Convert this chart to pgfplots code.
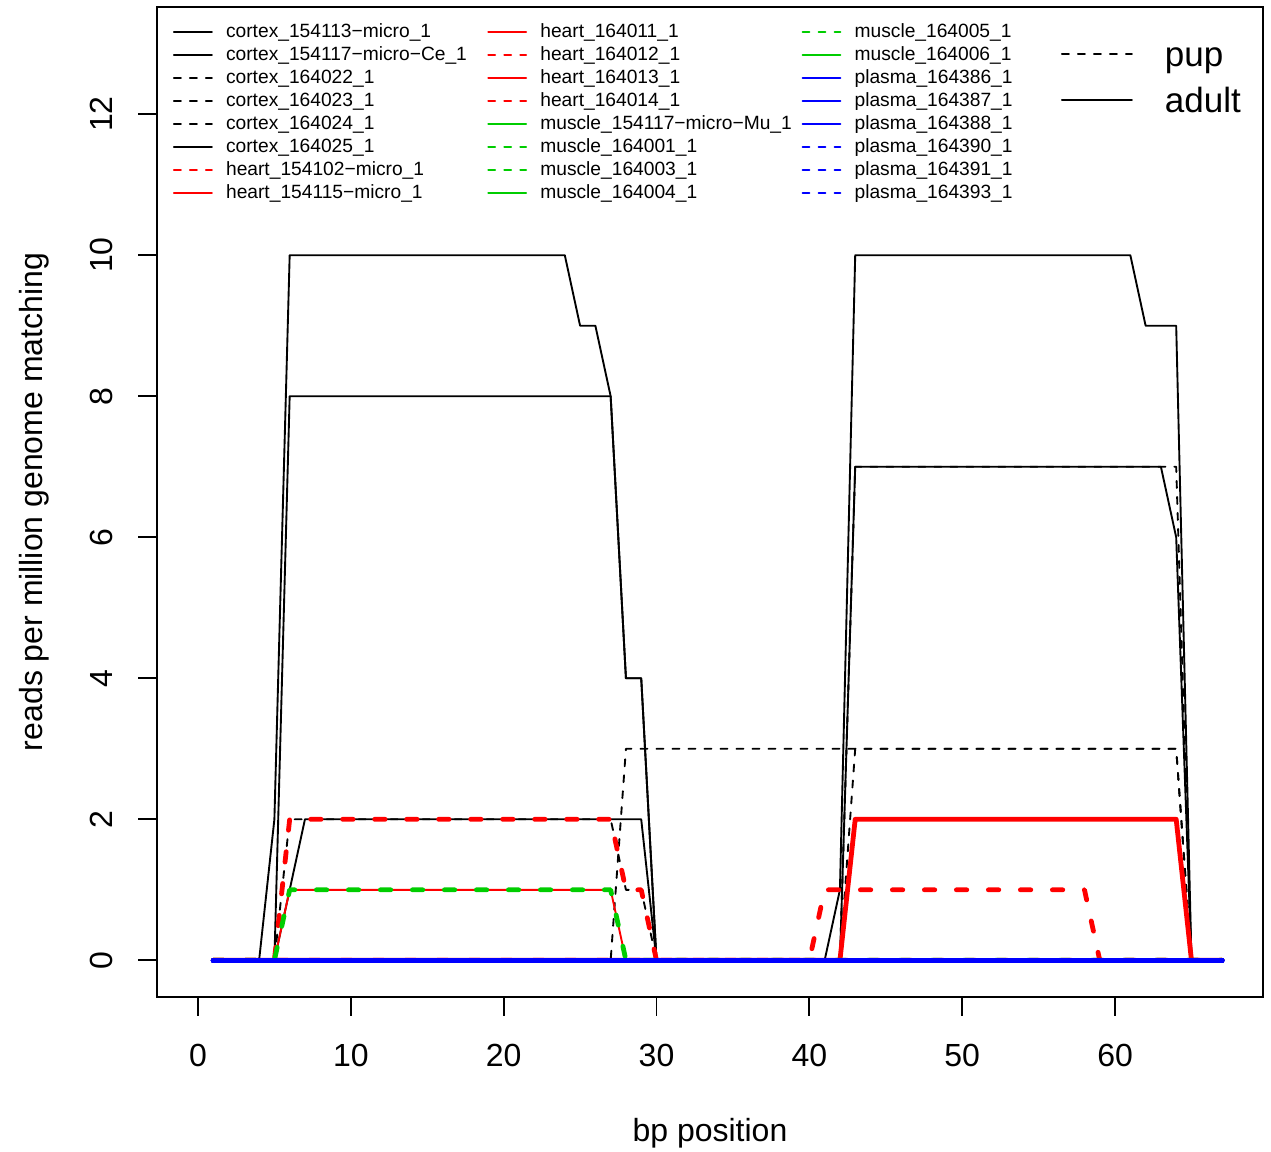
\documentclass[border=0pt]{standalone}
\usepackage{fontspec}
\setmainfont{Liberation Sans}
\usepackage{pgfplots}
\pgfplotsset{compat=1.18}
\definecolor{rgreen}{RGB}{0,205,0}
\definecolor{rred}{RGB}{255,0,0}
\definecolor{rblue}{RGB}{0,0,255}
\tikzset{
  thinsolid/.style={line width=0.94pt, line cap=round, line join=round},
  thindash/.style={line width=0.94pt, line cap=round, line join=round, dash pattern=on 3.5pt off 4.5pt},
  thicksolid/.style={line width=2.4pt, line cap=round, line join=round},
  thickdash/.style={line width=2.4pt, line cap=round, line join=round, dash pattern=on 5.2pt off 10.8pt},
}
\newcommand{\lgt}[1]{\makebox[137.2pt][l]{\hspace{6.6pt}#1}}
\begin{document}
\begin{tikzpicture}
\useasboundingbox (0,0) rectangle (635.5pt,576pt);
\begin{axis}[
  at={(78.5pt,77.5pt)}, anchor=south west,
  scale only axis, width=553pt, height=495pt,
  xmin=-2.68, xmax=69.68, ymin=-0.52, ymax=13.52,
  xtick={0,10,...,60}, ytick={0,2,...,12},
  tick align=outside, xtick pos=left, ytick pos=left,
  minor tick num=0,
  major tick length=9.5pt,
  axis line style={line width=0.94pt},
  every tick/.append style={black, line width=0.94pt},
  tick label style={font=\fontsize{16}{19}\selectfont, inner sep=0pt},
  /pgf/number format/assume math mode=true,
  xticklabel style={anchor=base},
  xticklabel shift=25.5pt,
  yticklabel style={rotate=90, anchor=base},
  yticklabel shift=12.5pt,
  legend style={at={(0,1)}, anchor=north west, xshift=8pt, yshift=-6.75pt,
    draw=none, fill=none, inner sep=0pt, outer sep=0pt, row sep=0pt, column sep=0pt,
    nodes={inner sep=0pt, text height=8.75pt, text depth=2.75pt, font=\fontsize{9.6}{11.5}\selectfont}},
  legend columns=8, transpose legend, legend cell align=left,
  legend image code/.code={\draw[#1] (0pt,0pt) -- (19pt,0pt);},
]
% cortex
\addplot[black, thinsolid, forget plot] coordinates {(1,0)(4,0)(5,2)(6,10)(24,10)(25,9)(26,9)(27,8)(28,4)(29,4)(30,0)(41,0)(42,1)(43,10)(61,10)(62,9)(64,9)(65,0)(67,0)};
\addplot[black, thinsolid, forget plot] coordinates {(1,0)(5,0)(6,8)(27,8)(28,4)(29,4)(30,0)(42,0)(43,7)(63,7)(64,6)(65,0)(67,0)};
\addplot[black, thindash, forget plot] coordinates {(1,0)(5,0)(6,2)(27,2)(28,1)(29,1)(30,0)(42,0)(43,7)(64,7)(65,0)(67,0)};
\addplot[black, thindash, forget plot] coordinates {(1,0)(27,0)(28,3)(64,3)(65,0)(67,0)};
\addplot[black, thindash, forget plot] coordinates {(1,0)(42,0)(43,3)(64,3)(65,0)(67,0)};
\addplot[black, thinsolid, forget plot] coordinates {(1,0)(5,0)(6,1)(7,2)(29,2)(30,0)(67,0)};
% heart
\addplot[rred, thickdash, forget plot] coordinates {(1,0)(5,0)(6,2)(27,2)(28,1)(29,1)(30,0)(67,0)};
\addplot[rred, thinsolid, forget plot] coordinates {(1,0)(5,0)(6,1)(27,1)(28,0)(67,0)};
\addplot[rred, thicksolid, forget plot] coordinates {(1,0)(42,0)(43,2)(64,2)(65,0)(67,0)};
\addplot[rred, thickdash, forget plot] coordinates {(1,0)(40,0)(41,1)(58,1)(59,0)(67,0)};
\addplot[rred, thinsolid, forget plot] coordinates {(1,0)(67,0)};
\addplot[rred, thindash, forget plot] coordinates {(1,0)(67,0)};
% muscle
\addplot[rgreen, thinsolid, forget plot] coordinates {(1,0)(67,0)};
\addplot[rgreen, thickdash, forget plot] coordinates {(1,0)(5,0)(6,1)(27,1)(28,0)(67,0)};
\addplot[rgreen, thindash, forget plot] coordinates {(1,0)(67,0)};
\addplot[rgreen, thinsolid, forget plot] coordinates {(1,0)(67,0)};
\addplot[rgreen, thindash, forget plot] coordinates {(1,0)(67,0)};
\addplot[rgreen, thinsolid, forget plot] coordinates {(1,0)(67,0)};
% plasma
\addplot[rblue, thicksolid, forget plot] coordinates {(1,0)(67,0)};
\addplot[rblue, thicksolid, forget plot] coordinates {(1,0)(67,0)};
\addplot[rblue, thicksolid, forget plot] coordinates {(1,0)(67,0)};
\addplot[rblue, thicksolid, forget plot] coordinates {(1,0)(67,0)};
\addplot[rblue, thicksolid, forget plot] coordinates {(1,0)(67,0)};
\addplot[rblue, thicksolid, forget plot] coordinates {(1,0)(67,0)};
% legend
\addlegendimage{black, thinsolid}\addlegendentry{\lgt{cortex\_154113−micro\_1}}
\addlegendimage{black, thinsolid}\addlegendentry{\lgt{cortex\_154117−micro−Ce\_1}}
\addlegendimage{black, thindash}\addlegendentry{\lgt{cortex\_164022\_1}}
\addlegendimage{black, thindash}\addlegendentry{\lgt{cortex\_164023\_1}}
\addlegendimage{black, thindash}\addlegendentry{\lgt{cortex\_164024\_1}}
\addlegendimage{black, thinsolid}\addlegendentry{\lgt{cortex\_164025\_1}}
\addlegendimage{rred, thindash}\addlegendentry{\lgt{heart\_154102−micro\_1}}
\addlegendimage{rred, thinsolid}\addlegendentry{\lgt{heart\_154115−micro\_1}}
\addlegendimage{rred, thinsolid}\addlegendentry{\lgt{heart\_164011\_1}}
\addlegendimage{rred, thindash}\addlegendentry{\lgt{heart\_164012\_1}}
\addlegendimage{rred, thinsolid}\addlegendentry{\lgt{heart\_164013\_1}}
\addlegendimage{rred, thindash}\addlegendentry{\lgt{heart\_164014\_1}}
\addlegendimage{rgreen, thinsolid}\addlegendentry{\lgt{muscle\_154117−micro−Mu\_1}}
\addlegendimage{rgreen, thindash}\addlegendentry{\lgt{muscle\_164001\_1}}
\addlegendimage{rgreen, thindash}\addlegendentry{\lgt{muscle\_164003\_1}}
\addlegendimage{rgreen, thinsolid}\addlegendentry{\lgt{muscle\_164004\_1}}
\addlegendimage{rgreen, thindash}\addlegendentry{\lgt{muscle\_164005\_1}}
\addlegendimage{rgreen, thinsolid}\addlegendentry{\lgt{muscle\_164006\_1}}
\addlegendimage{rblue, thinsolid}\addlegendentry{\lgt{plasma\_164386\_1}}
\addlegendimage{rblue, thinsolid}\addlegendentry{\lgt{plasma\_164387\_1}}
\addlegendimage{rblue, thinsolid}\addlegendentry{\lgt{plasma\_164388\_1}}
\addlegendimage{rblue, thindash}\addlegendentry{\lgt{plasma\_164390\_1}}
\addlegendimage{rblue, thindash}\addlegendentry{\lgt{plasma\_164391\_1}}
\addlegendimage{rblue, thindash}\addlegendentry{\lgt{plasma\_164393\_1}}
\end{axis}
\begin{axis}[
  at={(78.5pt,77.5pt)}, anchor=south west,
  scale only axis, width=553pt, height=495pt,
  hide axis, xmin=0, xmax=1, ymin=0, ymax=1,
  legend style={at={(0,1)}, anchor=north west, xshift=452pt, yshift=-12pt,
    draw=none, fill=none, inner sep=0pt, outer sep=0pt, row sep=0pt,
    nodes={inner sep=0pt, text height=17.9pt, text depth=5.1pt, font=\fontsize{17.5}{21}\selectfont}},
  legend cell align=left,
  legend image code/.code={\draw[#1] (0pt,0pt) -- (35pt,0pt);},
]
\addlegendimage{black, thindash}\addlegendentry{\hspace{16pt}pup}
\addlegendimage{black, thinsolid}\addlegendentry{\hspace{16pt}adult}
\end{axis}
\node[anchor=base, inner sep=0pt, font=\fontsize{16}{19}\selectfont] at (355pt,5pt) {bp position};
\node[rotate=90, anchor=base, inner sep=0pt, font=\fontsize{16}{19}\selectfont] at (21pt,325pt) {reads per million genome matching};
\end{tikzpicture}
\end{document}
